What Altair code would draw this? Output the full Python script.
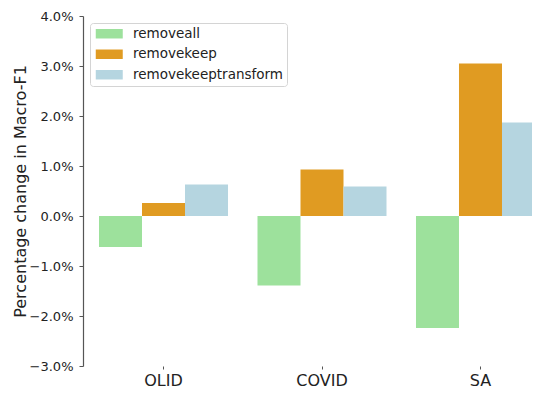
import altair as alt
import pandas as pd

categories = ["OLID", "COVID", "SA"]
series = ["removeall", "removekeep", "removekeeptransform"]
removeall = [-0.0062, -0.0139, -0.0224]
removekeep = [0.0026, 0.0093, 0.0305]
removekeeptransform = [0.0063, 0.0059, 0.0187]
colors = ["#9de19c", "#e09b22", "#b5d5e0"]
y_ticks = [-0.03, -0.02, -0.01, 0.0, 0.01, 0.02, 0.03, 0.04]

rows = []
for s, vals in zip(series, [removeall, removekeep, removekeeptransform]):
    for c, v in zip(categories, vals):
        rows.append({"category": c, "series": s, "value": v})
df = pd.DataFrame(rows)

FONT = "DejaVu Sans"

chart = alt.Chart(df).mark_bar(clip=True).encode(
    x=alt.X(
        "category:N",
        sort=categories,
        scale=alt.Scale(range=[16, 462], paddingInner=0.186, paddingOuter=0),
        axis=alt.Axis(
            title=None, labelAngle=0, domain=False, tickSize=3, tickColor="#555",
            labelFontSize=16, labelPadding=3, labelColor="#222", labelFont=FONT,
        ),
    ),
    xOffset=alt.XOffset("series:N", sort=series, scale=alt.Scale(paddingInner=0, paddingOuter=0)),
    y=alt.Y(
        "value:Q",
        scale=alt.Scale(domain=[-0.03, 0.04], nice=False),
        axis=alt.Axis(
            values=y_ticks, format=".1%", title="Percentage change in Macro-F1",
            grid=False, domainColor="#555", domainWidth=1.2, tickColor="#555", tickSize=4,
            labelFontSize=13, labelPadding=6, labelColor="#222", labelFont=FONT,
            titleFontSize=16, titleFontWeight="normal", titleColor="#222", titleFont=FONT,
            titleX=-63, titleY=175, titleAngle=270, titleAlign="center", titleBaseline="middle",
        ),
    ),
    color=alt.Color(
        "series:N",
        sort=series,
        scale=alt.Scale(domain=series, range=colors),
        legend=alt.Legend(
            title=None, orient="none", legendX=7, legendY=7,
            symbolType="M-2.25,-0.79H2.25V0.79H-2.25Z", symbolSize=144, symbolStrokeWidth=0,
            symbolOffset=8.5,
            labelFontSize=13.5, labelFont=FONT, labelColor="#222", labelOffset=17,
            strokeColor="#d4d4d4", fillColor="white", cornerRadius=3, padding=4,
            rowPadding=5.5,
        ),
    ),
).properties(
    width=449, height=350,
    autosize=alt.AutoSizeParams(type="none"),
    padding={"left": 75, "top": 8, "right": 0, "bottom": 23},
).configure_view(stroke=None)

chart.save("out.html", embed_options={"renderer": "svg", "actions": False})
